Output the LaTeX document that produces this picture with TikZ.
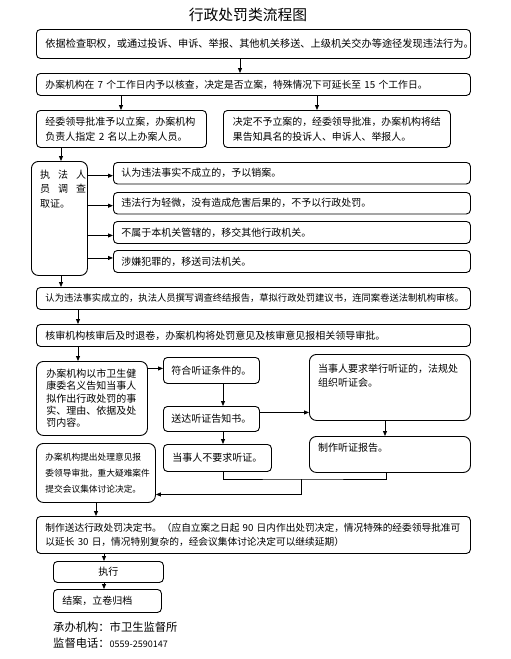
\documentclass[tikz,border=0pt]{standalone}
\usepackage{fontspec}
\setmainfont{Noto Sans CJK SC}
\usetikzlibrary{arrows.meta}
\begin{document}
\begin{tikzpicture}[x=1pt,y=-1pt,
  box/.style={draw=black, line width=0.9pt, rounded corners=4pt, inner xsep=9pt, inner ysep=0pt,
    align=left, anchor=north west, font=\fontsize{10}{14}\selectfont},
  bigbox/.style={box, rounded corners=7pt},
  txt/.style={inner sep=0pt, anchor=base west, align=left, font=\fontsize{10}{14}\selectfont},
  arr/.style={-{Triangle[length=5pt,width=4pt]}, line width=0.8pt},
  ln/.style={line width=0.8pt}]
\useasboundingbox (0,0) rectangle (511,659);
% title
\node[inner sep=0pt, font=\fontsize{14.8}{16}\selectfont] (title) at (248,15) {行政处罚类流程图};
% boxes
\node[box, text width=416pt, minimum height=29pt, font=\fontsize{10.2}{14}\selectfont] (b1) at (36,29)
  {依据检查职权，或通过投诉、申诉、举报、其他机关移送、上级机关交办等途径发现违法行为。};
\node[box, text width=416pt, minimum height=22pt, font=\fontsize{9.8}{14}\selectfont] (b2) at (36,73)
  {办案机构在 7 个工作日内予以核查，决定是否立案，特殊情况下可延长至 15 个工作日。};
\node[box, text width=152pt, minimum height=37pt, font=\fontsize{10}{15}\selectfont] (b3) at (36,110)
  {经委领导批准予以立案，办案机构\\负责人指定 2 名以上办案人员。};
\node[box, inner xsep=9.5pt, text width=208pt, minimum height=37pt, font=\fontsize{9.9}{15}\selectfont] (b4) at (223,110)
  {决定不予立案的，经委领导批准，办案机构将结\\果告知具名的投诉人、申诉人、举报人。};
\node[bigbox, minimum width=56pt, minimum height=114pt, inner sep=0pt] (exec) at (31,161) {};
\node[txt] (execT) at (40,178) {\parbox[t]{46pt}{\fontsize{10}{14.5}\selectfont 执\hfill 法\hfill 人\\员\hfill 调\hfill 查\\取证。}};
\node[box, inner xsep=8pt, text width=341pt, minimum height=21.5pt] (A) at (113,162) {认为违法事实不成立的，予以销案。};
\node[box, inner xsep=8pt, text width=341pt, minimum height=21.5pt] (B) at (113,192) {违法行为轻微，没有造成危害后果的，不予以行政处罚。};
\node[box, inner xsep=8pt, text width=341pt, minimum height=22pt] (C) at (113,221) {不属于本机关管辖的，移交其他行政机关。};
\node[box, inner xsep=8pt, text width=341pt, minimum height=22pt] (D) at (113,250) {涉嫌犯罪的，移送司法机关。};
\node[box, text width=416pt, minimum height=22pt, font=\fontsize{9.3}{14}\selectfont] (E) at (36,287)
  {认为违法事实成立的，执法人员撰写调查终结报告，草拟行政处罚建议书，连同案卷送法制机构审核。};
\node[box, text width=416pt, minimum height=22pt] (F) at (36,324)
  {核审机构核审后及时退卷，办案机构将处罚意见及核审意见报相关领导审批。};
\node[bigbox, inner xsep=10pt, text width=91pt, minimum height=74pt, font=\fontsize{10}{12.3}\selectfont] (G) at (36,361)
  {办案机构以市卫生健\\康委名义告知当事人\\拟作出行政处罚的事\\实、理由、依据及处\\罚内容。};
\node[box, inner xsep=8pt, text width=80pt, minimum height=26pt] (H) at (163,357) {符合听证条件的。};
\node[box, inner xsep=8pt, text width=80pt, minimum height=25pt] (I) at (163,406) {送达听证告知书。};
\node[bigbox, minimum width=161pt, minimum height=66pt, inner sep=0pt] (J) at (309,354) {};
\node[txt] (JT) at (318,372) {\parbox[t]{145pt}{\fontsize{10}{14}\selectfont 当事人要求举行听证的，法规处\\组织听证会。}};
\node[bigbox, minimum width=161pt, minimum height=36pt, inner sep=0pt] (K) at (309,436) {};
\node[txt] (KT) at (318,451) {制作听证报告。};
\node[box, inner xsep=9pt, text width=90pt, minimum height=27pt] (L) at (163,444) {当事人不要求听证。};
\node[bigbox, inner xsep=9pt, text width=101pt, minimum height=59pt, font=\fontsize{8.7}{16}\selectfont] (M) at (36,443)
  {办案机构提出处理意见报\\委领导审批，重大疑难案件\\提交会议集体讨论决定。};
\node[box, text width=416pt, minimum height=37pt, font=\fontsize{9.7}{14}\selectfont] (N) at (36,516)
  {制作送达行政处罚决定书。（应自立案之日起 90 日内作出处罚决定，情况特殊的经委领导批准可\\以延长 30 日，情况特别复杂的，经会议集体讨论决定可以继续延期）};
\node[box, align=center, text width=92pt, minimum height=21pt] (O) at (53,561) {执行};
\node[box, text width=90pt, minimum height=23pt] (P) at (53,589) {结案，立卷归档};
% footer
\node[txt, font=\fontsize{11.3}{14}\selectfont] (f1) at (53,631) {承办机构：市卫生监督所};
\node[txt, font=\fontsize{11.3}{14}\selectfont] (f2) at (53,647) {监督电话：{\fontsize{9}{12}\selectfont 0559-2590147}};
% connectors
\draw[arr] ([xshift=204pt]b1.south west) -- ([xshift=204pt]b2.north west);
\draw[arr] ([xshift=85pt]b2.south west) -- ([xshift=85pt]b3.north west);
\draw[arr] ([xshift=281pt]b2.south west) -- ([xshift=94pt]b4.north west);
\draw[arr] ([xshift=25pt]b3.south west) -- ([xshift=30pt]exec.north west);
\coordinate (pa) at ([yshift=-2.5pt]A.west);
\coordinate (pb) at ([yshift=-2.5pt]B.west);
\coordinate (pc) at ([yshift=-3pt]C.west);
\coordinate (pd) at ([yshift=3.5pt]D.west);
\draw[arr] (pa -| exec.east) -- (pa);
\draw[arr] (pb -| exec.east) -- (pb);
\draw[arr] (pc -| exec.east) -- (pc);
\draw[arr] (pd -| exec.east) -- (pd);
\draw[arr] ([xshift=30pt]exec.south west) -- ([xshift=25pt]E.north west);
\draw[arr] ([xshift=42pt]E.south west) -- ([xshift=42pt]F.north west);
\draw[arr] ([xshift=42pt]F.south west) -- ([xshift=42pt]G.north west);
\coordinate (ph) at ([yshift=2pt]H.west);
\draw[arr] (ph -| G.east) -- (ph);
\draw[arr] ([xshift=60pt]H.south west) -- ([xshift=60pt]I.north west);
\coordinate (pi) at ([yshift=6.5pt]I.east);
\draw[arr] (pi) -- (pi -| J.west);
\draw[arr] ([xshift=76pt]J.south west) -- ([xshift=76pt]K.north west);
\draw[arr] ([xshift=60pt]I.south west) -- ([xshift=60pt]L.north west);
\coordinate (lb) at ([xshift=60pt]L.south west);
\coordinate (kb) at ([xshift=77pt]K.south west);
\coordinate (mid) at (301,479);
\draw[ln] (lb) |- (mid) -| (kb);
\coordinate (mj) at ([yshift=-21.5pt]M.east);
\draw[arr] (mid) |- (mj);
\draw[arr] ([xshift=60pt]M.south west) -- ([xshift=60pt]N.north west);
\draw[arr] ([xshift=68pt]N.south west) -- ([xshift=51pt]O.north west);
\draw[arr] ([xshift=51pt]O.south west) -- ([xshift=51pt]P.north west);
\end{tikzpicture}
\end{document}
